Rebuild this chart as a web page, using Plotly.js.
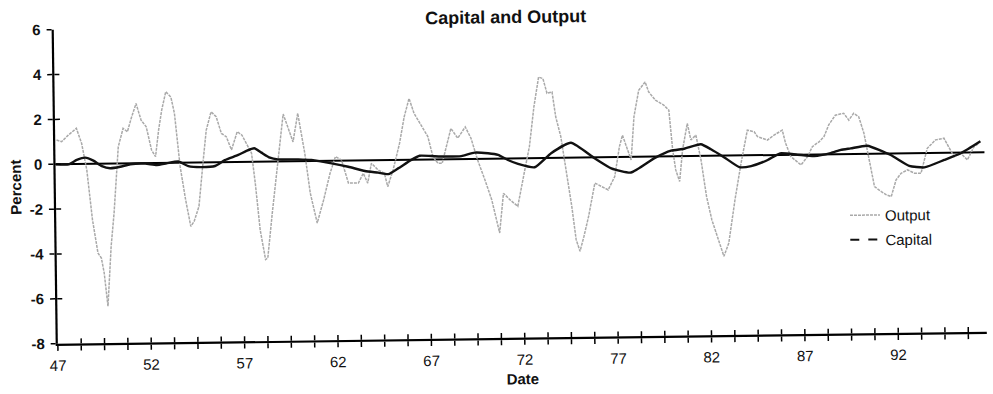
<!DOCTYPE html>
<html>
<head>
<meta charset="utf-8">
<script src="https://cdn.plot.ly/plotly-3.0.1.min.js"></script>
<style>
  html, body { margin: 0; padding: 0; background: #fff; overflow: hidden; }
  #chart { width: 993px; height: 394px; transform: rotate(-0.74deg); transform-origin: 50% 50%; }
  #chart svg path, #chart svg line { shape-rendering: geometricPrecision !important; }
</style>
</head>
<body>
<div id="chart"></div>
<script>
// Output (percent deviation)
const outputYears = [47.07,47.34,47.7,48.14,48.41,48.67,48.94,49.21,49.39,49.53,49.71,49.92,50.1,50.37,50.64,50.87,51.08,51.35,51.61,51.88,52.15,52.36,52.54,52.72,52.95,53.22,53.4,53.67,53.94,54.2,54.38,54.65,54.91,55.09,55.36,55.63,55.9,56.16,56.43,56.75,57.0,57.23,57.5,57.68,57.91,58.18,58.3,58.57,58.83,59.07,59.22,59.73,60.0,60.35,60.62,60.97,61.33,61.69,61.99,62.31,62.67,63.2,63.47,63.7,63.91,64.27,64.6,64.77,65.07,65.43,65.7,65.97,66.23,66.59,66.95,67.21,67.48,67.7,67.93,68.19,68.55,68.96,69.26,69.6,69.98,70.33,70.73,70.96,71.31,71.72,72.12,72.38,72.65,72.92,73.15,73.36,73.63,73.81,74.07,74.34,74.61,74.82,75.02,75.24,75.5,75.86,76.22,76.57,76.93,77.2,77.37,77.64,77.82,78.0,78.27,78.62,78.8,79.16,79.6,79.87,80.05,80.2,80.4,80.58,80.85,81.03,81.3,81.56,81.83,82.1,82.45,82.72,82.99,83.35,83.7,84.06,84.42,84.6,85.13,85.49,85.93,86.1,86.37,86.91,87.27,87.53,87.89,88.16,88.42,88.78,89.23,89.5,89.76,90.03,90.3,90.56,90.83,91.19,91.46,91.72,91.99,92.26,92.61,92.97,93.33,93.68,94.13,94.58,94.84,95.11,95.47,95.82,96.18,96.44];
const outputValues = [1.08,1.0,1.29,1.59,0.92,-0.27,-2.5,-3.98,-4.21,-4.87,-6.36,-3.69,-2.21,0.74,1.56,1.41,2.0,2.66,1.92,1.62,0.58,0.28,1.46,2.35,3.17,2.93,2.2,-0.18,-1.66,-2.85,-2.63,-1.96,0.1,1.43,2.25,2.03,1.28,1.13,0.54,1.35,1.19,0.82,0.38,-0.95,-3.04,-4.37,-4.3,-2.3,-0.38,1.1,2.11,0.86,2.13,0.35,-1.44,-2.77,-1.74,-0.56,0.18,0.03,-1.01,-1.01,-0.58,-1.02,-0.14,-0.44,-0.59,-1.19,-0.44,0.73,1.92,2.73,2.06,1.54,1.02,0.12,-0.18,-0.18,0.56,1.37,0.93,1.43,0.92,-0.05,-0.95,-1.84,-3.32,-1.55,-1.85,-2.14,-0.52,0.51,2.29,3.61,3.54,2.88,2.94,1.83,0.94,-0.54,-2.18,-3.66,-4.18,-3.52,-2.64,-1.15,-1.31,-1.46,-0.87,0.46,0.97,0.31,-0.14,1.79,2.96,3.33,2.89,2.51,2.29,2.06,0.29,-0.61,-1.13,0.29,1.46,0.72,0.93,-0.18,-1.81,-2.86,-3.74,-4.49,-3.9,-1.98,-0.35,1.12,1.05,0.83,0.67,0.89,1.1,0.51,-0.08,-0.46,-0.09,0.35,0.56,0.79,1.31,1.74,1.82,1.51,1.81,1.66,0.92,-0.28,-1.47,-1.69,-1.84,-1.92,-1.18,-0.89,-0.74,-0.89,-0.9,0.21,0.58,0.65,0.27,-0.18,-0.03,-0.33,0.25,0.4];

// Capital (percent deviation)
const capitalYears = [47.0,47.7,48.14,48.59,49.03,49.48,49.92,50.46,51.0,51.8,52.42,52.95,53.58,54.11,54.82,55.54,56.07,56.79,57.23,57.65,58.03,58.48,58.9,60.0,60.7,61.78,62.67,63.56,64.27,64.81,65.34,66.05,66.5,67.12,67.84,68.73,69.44,70.16,70.7,71.22,71.76,72.65,73.54,74.61,75.86,76.75,77.8,79.07,79.96,80.67,81.56,82.1,82.81,83.61,84.24,85.13,85.8,86.73,87.62,88.5,89.05,89.58,90.47,91.72,92.7,93.51,94.58,95.5,96.53];
const capitalValues = [0,-0.01,0.18,0.28,0.14,-0.11,-0.21,-0.15,-0.04,-0.02,-0.09,-0.02,0.05,-0.16,-0.21,-0.17,0.09,0.31,0.49,0.6,0.4,0.17,0.09,0.08,0.04,-0.12,-0.28,-0.48,-0.56,-0.63,-0.38,-0.01,0.17,0.15,0.12,0.13,0.28,0.24,0.16,-0.07,-0.25,-0.41,0.21,0.66,-0.04,-0.5,-0.7,-0.07,0.25,0.33,0.52,0.29,-0.08,-0.52,-0.48,-0.22,0.07,0.0,-0.07,0.05,0.19,0.25,0.36,-0.07,-0.56,-0.64,-0.32,-0.02,0.49];

const xLabels = ['47','52','57','62','67','72','77','82','87','92'];
const yTicks = [-8,-6,-4,-2,0,2,4,6];
const seriesNames = ['Output','Capital'];

// tick marks every 1.25 years, labels every 5 years
const xTickVals = [];
const xTickText = [];
for (let k = 0; k <= 39; k++) {
  xTickVals.push(47 + 1.25 * k);
  xTickText.push(k % 4 === 0 ? xLabels[k / 4] : '');
}

const FONT = 'Liberation Sans, Arial, sans-serif';
const xRange = [47, 96.74];
const yRange = [-8, 6];

const traces = [
  {
    x: outputYears, y: outputValues, name: seriesNames[0], type: 'scatter', mode: 'lines',
    line: { color: '#a9a9a9', width: 1.5, dash: '3px,1px' }, legendgroup: 'a'
  },
  {
    x: capitalYears, y: capitalValues, name: seriesNames[1], type: 'scatter', mode: 'lines',
    line: { color: '#111', width: 2.4, shape: 'spline', smoothing: 0.5 }, showlegend: false
  },
  {
    x: [null], y: [null], name: seriesNames[1], type: 'scatter', mode: 'lines',
    xaxis: 'x2', yaxis: 'y2',
    line: { color: '#111', width: 2, dash: 'dash' }, legendgroup: 'b'
  }
];

const layout = {
  width: 993, height: 394,
  margin: { l: 56, r: 8, t: 24, b: 56 },
  paper_bgcolor: '#fff', plot_bgcolor: '#fff',
  font: { family: FONT, color: '#111', size: 15 },
  title: {
    text: '<b>Capital and Output</b>', font: { family: FONT, size: 18, color: '#111' },
    x: 508 / 993, xanchor: 'center', y: 1 - 17 / 394, yanchor: 'middle'
  },
  xaxis: {
    range: xRange, tickmode: 'array', tickvals: xTickVals, ticktext: xTickText,
    ticks: 'outside', ticklen: 5, tickwidth: 1.5, tickcolor: '#000',
    showline: true, linecolor: '#000', linewidth: 2.2, showgrid: false, zeroline: false,
    tickfont: { family: FONT, size: 15, color: '#111' }, ticklabelstandoff: 2,
    title: { text: '<b>Date</b>', font: { family: FONT, size: 15, color: '#111' }, standoff: 7 }
  },
  xaxis2: {
    range: xRange, overlaying: 'x', anchor: 'y', side: 'bottom', tickmode: 'array',
    tickvals: xTickVals, ticktext: xTickVals.map(() => ''), ticks: 'inside', ticklen: 5,
    tickwidth: 1.5, tickcolor: '#000', showline: false, showgrid: false, zeroline: false
  },
  yaxis: {
    range: yRange, tickmode: 'array', tickvals: yTicks, ticktext: yTicks.map(String),
    ticks: 'outside', ticklen: 5, tickwidth: 1.5, tickcolor: '#000',
    showline: true, linecolor: '#000', linewidth: 2.2, showgrid: false,
    zeroline: true, zerolinecolor: '#000', zerolinewidth: 2,
    tickfont: { family: FONT, size: 15, color: '#111', weight: 'bold' }, ticklabelstandoff: 3,
    title: { text: '<b>Percent</b>', font: { family: FONT, size: 15, color: '#111' }, standoff: 4 }
  },
  yaxis2: {
    range: yRange, overlaying: 'y', anchor: 'x', side: 'left', tickmode: 'array',
    tickvals: yTicks, ticktext: yTicks.map(() => ''), ticks: 'inside', ticklen: 5,
    tickwidth: 1.5, tickcolor: '#000', showline: false, showgrid: false, zeroline: false
  },
  showlegend: true,
  legend: {
    x: 0.849, xanchor: 'left', y: 0.428, yanchor: 'top',
    bgcolor: 'rgba(0,0,0,0)', font: { family: FONT, size: 15, color: '#111' },
    tracegroupgap: 2
  }
};

Plotly.newPlot('chart', traces, layout, { staticPlot: true, displayModeBar: false });
</script>
</body>
</html>
